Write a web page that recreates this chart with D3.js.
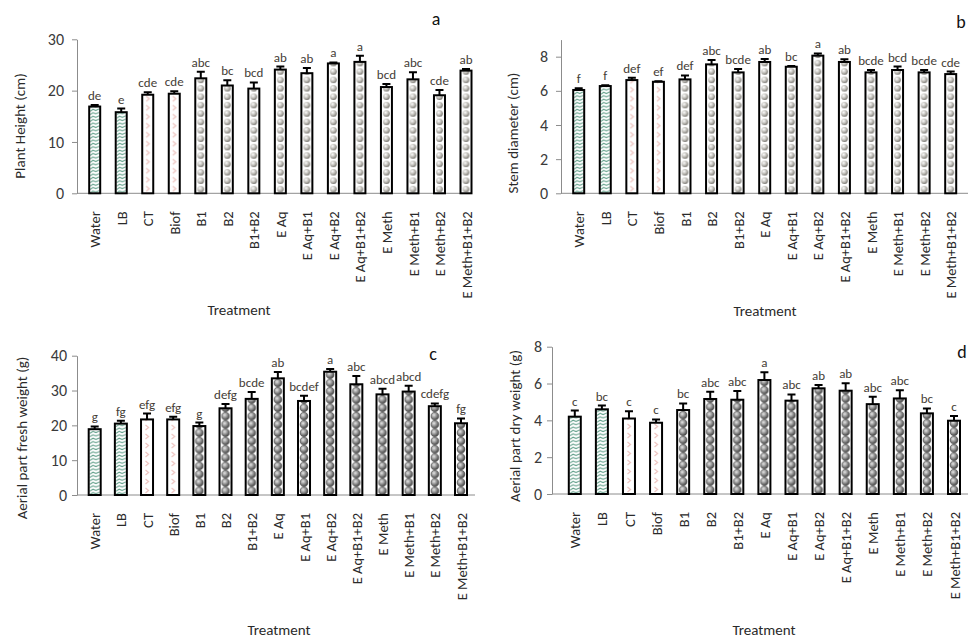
<!DOCTYPE html>
<html>
<head>
<meta charset="utf-8">
<script src="https://cdn.jsdelivr.net/npm/d3@7"></script>
<style>
  body { margin: 0; background: #fff; }
  svg { display: block; font-family: Carlito, Lato, sans-serif; }
</style>
</head>
<body>
<div id="chart"></div>
<script>
// treatments on the x axis
const treatments = ['Water','LB','CT','Biof','B1','B2','B1+B2','E Aq','E Aq+B1','E Aq+B2',
  'E Aq+B1+B2','E Meth','E Meth+B1','E Meth+B2','E Meth+B1+B2']

// a - plant height (cm)
const heightMean = [16.9,15.8,19.2,19.4,22.4,21.0,20.4,24.1,23.4,25.3,25.6,20.7,22.2,19.1,23.9]
const heightErr  = [0.3,0.7,0.5,0.5,1.3,1.0,1.2,0.6,1.0,0.2,1.2,0.6,1.4,1.0,0.3]
const heightLetters = ['de','e','cde','cde','abc','bc','bcd','ab','ab','a','a','bcd','abc','cde','ab']

// b - stem diameter (cm)
const stemMean = [6.05,6.28,6.63,6.53,6.67,7.55,7.08,7.69,7.41,8.06,7.69,7.08,7.22,7.08,6.98]
const stemErr  = [0.1,0.05,0.13,0.03,0.23,0.25,0.2,0.18,0.05,0.13,0.16,0.14,0.2,0.14,0.15]
const stemLetters = ['f','f','def','ef','def','abc','bcde','ab','bc','a','ab','bcde','bcd','bcde','cde']

// c - aerial part fresh weight (g)
const freshMean = [18.9,20.5,21.7,21.7,19.8,24.9,27.6,33.5,27.0,35.4,31.8,28.9,29.7,25.5,20.6]
const freshErr  = [0.8,0.8,1.7,0.8,1.0,1.2,2.0,1.8,1.5,0.8,2.4,1.6,1.7,0.8,1.4]
const freshLetters = ['g','fg','efg','efg','g','defg','bcde','ab','bcdef','a','abc','abcd','abcd','cdefg','fg']

// d - aerial part dry weight (g)
const dryMean = [4.2,4.6,4.1,3.87,4.56,5.16,5.12,6.19,5.07,5.74,5.61,4.88,5.19,4.38,3.98]
const dryErr  = [0.33,0.2,0.4,0.18,0.36,0.4,0.47,0.42,0.34,0.18,0.4,0.4,0.45,0.27,0.25]
const dryLetters = ['c','bc','c','c','bc','abc','abc','a','abc','ab','ab','abc','abc','bc','c']

const svg = d3.select('#chart').append('svg')
  .attr('width', 968)
  .attr('height', 640)

const defs = svg.append('defs')

// fill type by treatment group
const fillType = t => (t == 'Water' || t == 'LB') ? 'wave' : (t == 'CT' || t == 'Biof') ? 'chev' : 'ball'

function makePatterns(key, bw, dark){
  const wave = defs.append('pattern').attr('id', 'wave' + key)
    .attr('patternUnits', 'userSpaceOnUse').attr('width', bw).attr('height', 3.4)
  wave.append('rect').attr('width', bw).attr('height', 3.4).attr('fill', '#fff')
  wave.append('path').attr('d', `M1,3 L${bw*0.35},1 L${bw*0.6},2.2 L${bw-1},0.6`)
    .attr('fill', 'none').attr('stroke', '#5f9e88').attr('stroke-width', 1)

  const chev = defs.append('pattern').attr('id', 'chev' + key)
    .attr('patternUnits', 'userSpaceOnUse').attr('width', bw).attr('height', 9)
  chev.append('rect').attr('width', bw).attr('height', 9).attr('fill', '#fff')
  chev.append('path').attr('d', `M${bw/2-1.5},2 L${bw/2+1.5},4.5 L${bw/2-1.5},7`)
    .attr('fill', 'none').attr('stroke', '#eec6c2').attr('stroke-width', 1.3)

  const grad = defs.append('radialGradient').attr('id', 'g' + key)
    .attr('cx', '0.38').attr('cy', '0.35').attr('r', '0.7')
  grad.append('stop').attr('offset', '0%').attr('stop-color', dark ? '#e8e8e8' : '#ffffff')
  grad.append('stop').attr('offset', '55%').attr('stop-color', dark ? '#8a8a8a' : '#bcbab4')
  grad.append('stop').attr('offset', '100%').attr('stop-color', dark ? '#3a3a3a' : '#6f6d68')

  const step = dark ? 8.3 : 8.4
  const ball = defs.append('pattern').attr('id', 'ball' + key)
    .attr('patternUnits', 'userSpaceOnUse').attr('width', bw).attr('height', step)
  ball.append('rect').attr('width', bw).attr('height', step).attr('fill', '#fff')
  ball.append('circle').attr('cx', bw/2).attr('cy', step/2).attr('r', dark ? 3.8 : 3.3)
    .attr('fill', `url(#g${key})`)
    .attr('stroke', dark ? '#333' : 'none').attr('stroke-width', 0.6)
}

makePatterns('L', 11, false)
makePatterns('D', 12, true)

function drawPanel(p){
  const g = svg.append('g')

  const x = d3.scalePoint().domain(treatments).range([p.c0, p.c1])
  const y = d3.scaleLinear().domain([0, p.max]).range([p.y0, p.y1])

  // y axis
  const yAxis = g.append('g')
    .attr('transform', `translate(${p.ax0},0)`)
    .call(d3.axisLeft(y).tickValues(p.ticks).tickSize(5).tickSizeOuter(0).tickPadding(p.pad))
  yAxis.select('.domain').attr('stroke', '#8c8c8c')
  yAxis.selectAll('.tick line').attr('stroke', '#8c8c8c')
  yAxis.selectAll('.tick text').attr('font-size', 16).attr('fill', '#3a3a3a')
    .attr('font-family', 'Carlito, Lato, sans-serif')

  // x axis line
  g.append('line')
    .attr('x1', p.ax0).attr('x2', p.ax1)
    .attr('y1', y(0)).attr('y2', y(0))
    .attr('stroke', '#8c8c8c')

  // category labels
  const xAxis = g.append('g')
    .attr('transform', `translate(0,${y(0)})`)
    .call(d3.axisBottom(x).tickSize(0))
  xAxis.select('.domain').remove()
  xAxis.selectAll('text')
    .attr('transform', 'rotate(-90)')
    .attr('x', -18).attr('y', 0).attr('dy', '0.35em')
    .style('text-anchor', 'end')
    .attr('font-size', 14.5).attr('fill', '#2a2a2a')
    .attr('font-family', 'Carlito, Lato, sans-serif')

  // bars
  const bars = g.selectAll('.bar')
    .data(treatments)
    .enter()
    .append('g')
    .attr('class', 'bar')
    .attr('transform', d => `translate(${x(d) - p.bw/2},${y(0)})`)

  bars.append('rect')
    .attr('x', 0)
    .attr('y', (d,i) => y(p.mean[i]) - y(0))
    .attr('width', p.bw)
    .attr('height', (d,i) => y(0) - y(p.mean[i]))
    .attr('fill', d => `url(#${fillType(d)}${p.key})`)
    .attr('stroke', '#000')
    .attr('stroke-width', 2)

  // error bars (upper only)
  g.selectAll('.err')
    .data(treatments)
    .enter()
    .append('path')
    .attr('d', (d,i) => {
      const cx = x(d), top = y(p.mean[i] + p.err[i])
      return `M${cx},${y(p.mean[i])}V${top}M${cx-4},${top}H${cx+4}`
    })
    .attr('stroke', '#000')
    .attr('stroke-width', 2)
    .attr('fill', 'none')

  // significance letters
  g.selectAll('.letter')
    .data(treatments)
    .enter()
    .append('text')
    .text((d,i) => p.letters[i])
    .attr('x', d => x(d))
    .attr('y', (d,i) => y(p.mean[i] + p.err[i]) - 5)
    .attr('text-anchor', 'middle')
    .attr('font-size', 13)
    .attr('fill', '#453d36')

  // axis titles
  g.append('text')
    .text(p.ytitle)
    .attr('transform', `translate(${p.ytx},${p.yty}) rotate(-90)`)
    .attr('text-anchor', 'middle')
    .attr('dominant-baseline', 'central')
    .attr('font-size', 15)
    .attr('fill', '#2a2a2a')

  g.append('text')
    .text('Treatment')
    .attr('x', p.tx).attr('y', p.ty)
    .attr('text-anchor', 'middle')
    .attr('dominant-baseline', 'central')
    .attr('font-size', 15)
    .attr('fill', '#2a2a2a')

  g.append('text')
    .text(p.label)
    .attr('x', p.lx).attr('y', p.ly)
    .attr('text-anchor', 'middle')
    .attr('dominant-baseline', 'central')
    .attr('font-size', 18)
    .attr('fill', '#111')
}

drawPanel({key:'L', label:'a', lx:436, ly:19, mean:heightMean, err:heightErr, letters:heightLetters,
  max:30, ticks:[0,10,20,30], y0:193.3, y1:39.3, ax0:77, ax1:472, c0:94.7, c1:466, bw:11, pad:8,
  ytitle:'Plant Height  (cm)', ytx:20, yty:126, tx:239, ty:310})

drawPanel({key:'L', label:'b', lx:961, ly:22, mean:stemMean, err:stemErr, letters:stemLetters,
  max:9, ticks:[0,2,4,6,8], y0:193.3, y1:39.6, ax0:561, ax1:980, c0:578.7, c1:950.7, bw:11, pad:8,
  ytitle:'Stem diameter (cm)', ytx:513, yty:133, tx:765, ty:311})

drawPanel({key:'D', label:'c', lx:433, ly:354, mean:freshMean, err:freshErr, letters:freshLetters,
  max:40, ticks:[0,10,20,30,40], y0:495, y1:355.7, ax0:77, ax1:475, c0:94.7, c1:461, bw:12, pad:5,
  ytitle:'Aerial part fresh weight (g)', ytx:22, yty:438, tx:279, ty:630})

drawPanel({key:'D', label:'d', lx:962, ly:352, mean:dryMean, err:dryErr, letters:dryLetters,
  max:8, ticks:[0,2,4,6,8], y0:494, y1:346.7, ax0:552, ax1:980, c0:574.8, c1:954, bw:12, pad:5,
  ytitle:'Aerial part dry weight (g)', ytx:515, yty:426, tx:764, ty:630})
</script>
</body>
</html>
